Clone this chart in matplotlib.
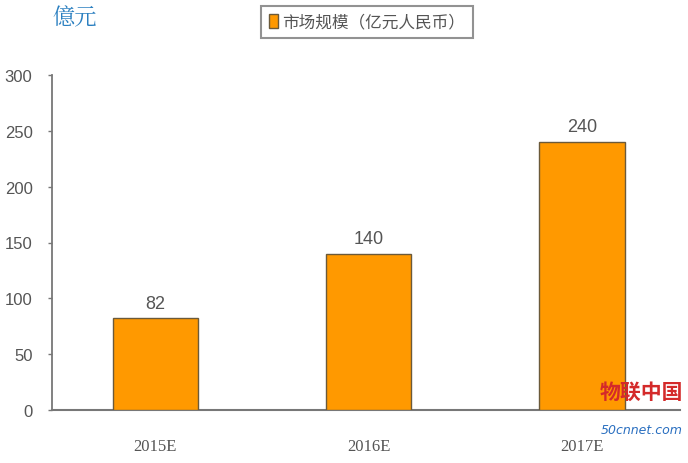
import matplotlib
matplotlib.use("Agg")
import matplotlib.pyplot as plt
from matplotlib.patches import Patch

categories = ["2015E", "2016E", "2017E"]
values = [82, 140, 240]
yticks = [0, 50, 100, 150, 200, 250, 300]
legend_label = "市场规模（亿元人民币）"
unit_label = "億元"

cjk = ["Noto Sans CJK SC", "DejaVu Sans"]
narrow = ["Liberation Sans", "DejaVu Sans"]

fig = plt.figure(figsize=(6.88, 4.64), dpi=100)
ax = fig.add_axes([52/688, 1-411/464, (680-52)/688, (411-76)/464])

x = list(range(len(categories)))
ax.bar(x, values, width=0.4, color="#FF9900", edgecolor="#6b5a3a", linewidth=1.0, zorder=3)

for xi, v in zip(x, values):
    ax.text(xi, v + 6, str(v), ha="center", va="bottom", fontsize=13, color="#555555", family=narrow)

ax.set_xlim(-0.485, 2.46)
ax.set_ylim(0, 300)
ax.set_yticks(yticks)
ax.set_yticklabels([str(t) for t in yticks], fontsize=12, color="#555555", family=narrow)
ax.set_xticks(x)
ax.set_xticklabels(categories, fontsize=12, color="#555555", family=["Liberation Serif", "DejaVu Serif"])
ax.tick_params(axis="x", length=0, pad=20)
ax.tick_params(axis="y", length=3, width=1, color="#777777", pad=11, direction="out")

for s in ["top", "right"]:
    ax.spines[s].set_visible(False)
ax.spines["left"].set_color("#777777")
ax.spines["bottom"].set_color("#777777")
ax.spines["left"].set_linewidth(1.3)
ax.spines["bottom"].set_linewidth(1.5)

handle = Patch(facecolor="#FF9900", edgecolor="#6b5a3a", linewidth=1.0)
leg = fig.legend([handle], [legend_label], loc="center", bbox_to_anchor=(367/688, 1-23/464),
                 frameon=True, fancybox=False, edgecolor="#777777", handlelength=0.55, handleheight=0.9,
                 handletextpad=0.25, borderpad=0.45, prop={"family": cjk, "size": 12})
leg.get_frame().set_linewidth(1.5)
for t in leg.get_texts():
    t.set_color("#555555")

fig.text(52/688, 1-18/464, unit_label, ha="left", va="center", fontsize=16, color="#2a7fc0",
         family=["Noto Serif CJK SC", "Noto Sans CJK TC", "Noto Sans CJK SC", "DejaVu Sans"])

# watermark
fig.text(600/688, 1-392/464, "物联中国", ha="left", va="center", fontsize=15, color="#d42a2a",
         fontweight="bold", family=cjk)
fig.text(683/688, 1-431/464, "50cnnet.com", ha="right", va="center", fontsize=9, color="#2a6fc0",
         style="italic", family=["DejaVu Sans"])

fig.savefig("out.png", dpi=100, facecolor="white")
